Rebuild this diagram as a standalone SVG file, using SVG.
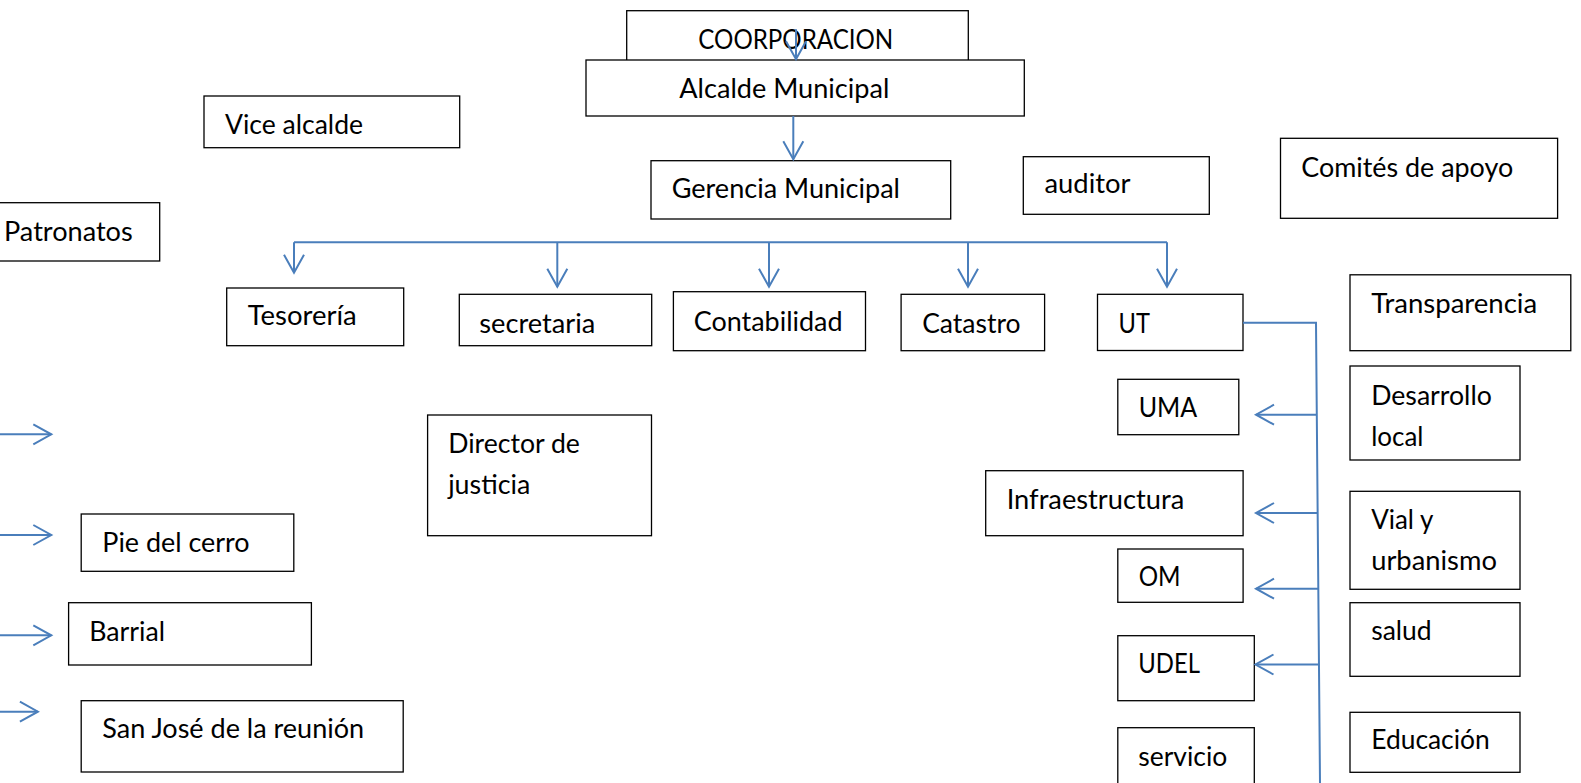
<svg xmlns="http://www.w3.org/2000/svg" width="1581" height="783" viewBox="0 0 1581 783">
<style>
.box{fill:#fff;stroke:#000;stroke-width:1.3}
.t{font-family:Lato,"Open Sans","Liberation Sans",sans-serif;font-size:26px;fill:#000}
.c{fill:none;stroke:#4a7ebb;stroke-width:2}
</style>
<defs>
<marker id="arr" viewBox="-21 -12 23 24" refX="0" refY="0" markerWidth="23" markerHeight="24" markerUnits="userSpaceOnUse" orient="auto" overflow="visible">
<path d="M-18,-10 L0,0 L-18,10" fill="none" stroke="#4a7ebb" stroke-width="2"/>
</marker>
</defs>
<rect width="1581" height="783" fill="#fff"/>
<g id="coorporacion"><rect class="box" x="626.7" y="10.7" width="341.6" height="55"/><text class="t" x="698.3" y="49.3" textLength="195" lengthAdjust="spacingAndGlyphs">COORPORACION</text></g>
<g id="alcalde"><rect class="box" x="586" y="60" width="438.3" height="56"/><text class="t" x="679.3" y="97.7" textLength="210" lengthAdjust="spacingAndGlyphs">Alcalde Municipal</text></g>
<g id="gerencia"><rect class="box" x="651" y="160.7" width="299.7" height="58.3"/><text class="t" x="671.7" y="198.3" textLength="228.3" lengthAdjust="spacingAndGlyphs">Gerencia Municipal</text></g>
<g id="vicealcalde"><rect class="box" x="204" y="96" width="255.7" height="51.7"/><text class="t" x="225" y="134" textLength="138" lengthAdjust="spacingAndGlyphs">Vice alcalde</text></g>
<g id="patronatos"><rect class="box" x="-2" y="202.7" width="161.7" height="58.3"/><text class="t" x="4" y="240.7" textLength="128.7" lengthAdjust="spacingAndGlyphs">Patronatos</text></g>
<g id="auditor"><rect class="box" x="1023.3" y="156.7" width="186" height="57.6"/><text class="t" x="1044.5" y="193.3" textLength="86" lengthAdjust="spacingAndGlyphs">auditor</text></g>
<g id="comites"><rect class="box" x="1280.5" y="138.3" width="277.1" height="80"/><text class="t" x="1301.2" y="176.7" textLength="212" lengthAdjust="spacingAndGlyphs">Comités de apoyo</text></g>
<g id="tesoreria"><rect class="box" x="226.7" y="288" width="177" height="57.7"/><text class="t" x="247.7" y="325" textLength="109" lengthAdjust="spacingAndGlyphs">Tesorería</text></g>
<g id="secretaria"><rect class="box" x="459.3" y="294.3" width="192.4" height="51.4"/><text class="t" x="479.3" y="333.3" textLength="116" lengthAdjust="spacingAndGlyphs">secretaria</text></g>
<g id="contabilidad"><rect class="box" x="673.4" y="291.7" width="192.1" height="59"/><text class="t" x="693.7" y="331" textLength="148.9" lengthAdjust="spacingAndGlyphs">Contabilidad</text></g>
<g id="catastro"><rect class="box" x="901.1" y="294.3" width="143.5" height="56.4"/><text class="t" x="922.2" y="333.3" textLength="98.4" lengthAdjust="spacingAndGlyphs">Catastro</text></g>
<g id="ut"><rect class="box" x="1097.5" y="294.3" width="145.5" height="56.2"/><text class="t" x="1118.5" y="333.3" textLength="31.4" lengthAdjust="spacingAndGlyphs">UT</text></g>
<g id="transparencia"><rect class="box" x="1350" y="274.8" width="220.8" height="75.9"/><text class="t" x="1371.2" y="312.7" textLength="166" lengthAdjust="spacingAndGlyphs">Transparencia</text></g>
<g id="desarrollo"><rect class="box" x="1350" y="366" width="170" height="94"/><text class="t" x="1371.2" y="405" textLength="120.6" lengthAdjust="spacingAndGlyphs">Desarrollo</text><text class="t" x="1371.2" y="445.7" textLength="52.2" lengthAdjust="spacingAndGlyphs">local</text></g>
<g id="uma"><rect class="box" x="1117.8" y="379.3" width="121" height="55.4"/><text class="t" x="1138.7" y="416.7" textLength="58.5" lengthAdjust="spacingAndGlyphs">UMA</text></g>
<g id="infraestructura"><rect class="box" x="985.7" y="470.7" width="257.4" height="65"/><text class="t" x="1006.7" y="509.3" textLength="177.5" lengthAdjust="spacingAndGlyphs">Infraestructura</text></g>
<g id="vial"><rect class="box" x="1350" y="491.3" width="170" height="98"/><text class="t" x="1371.2" y="529.3" textLength="62.1" lengthAdjust="spacingAndGlyphs">Vial y</text><text class="t" x="1371.2" y="570" textLength="125.7" lengthAdjust="spacingAndGlyphs">urbanismo</text></g>
<g id="om"><rect class="box" x="1117.8" y="549" width="125.3" height="53.3"/><text class="t" x="1138.7" y="586" textLength="41.9" lengthAdjust="spacingAndGlyphs">OM</text></g>
<g id="salud"><rect class="box" x="1350" y="602.7" width="170" height="73.6"/><text class="t" x="1371.2" y="640" textLength="60.5" lengthAdjust="spacingAndGlyphs">salud</text></g>
<g id="udel"><rect class="box" x="1117.8" y="635.7" width="136.5" height="65"/><text class="t" x="1138.3" y="673.3" textLength="61.7" lengthAdjust="spacingAndGlyphs">UDEL</text></g>
<g id="educacion"><rect class="box" x="1350" y="712.3" width="170" height="60"/><text class="t" x="1371.2" y="749" textLength="118.6" lengthAdjust="spacingAndGlyphs">Educación</text></g>
<g id="servicio"><rect class="box" x="1117.8" y="727.7" width="136.5" height="70"/><text class="t" x="1138.3" y="766" textLength="89" lengthAdjust="spacingAndGlyphs">servicio</text></g>
<g id="director"><rect class="box" x="427.6" y="415" width="223.9" height="120.7"/><text class="t" x="448.2" y="452.7" textLength="131.7" lengthAdjust="spacingAndGlyphs">Director de</text><text class="t" x="448.2" y="494" textLength="82.1" lengthAdjust="spacingAndGlyphs">justicia</text></g>
<g id="piedelcerro"><rect class="box" x="81.2" y="514" width="212.6" height="57.3"/><text class="t" x="102.3" y="551.7" textLength="147.3" lengthAdjust="spacingAndGlyphs">Pie del cerro</text></g>
<g id="barrial"><rect class="box" x="68.6" y="602.7" width="242.8" height="62.3"/><text class="t" x="89.2" y="640.7" textLength="75.8" lengthAdjust="spacingAndGlyphs">Barrial</text></g>
<g id="sanjose"><rect class="box" x="81.2" y="700.7" width="322" height="71.3"/><text class="t" x="102.3" y="738.3" textLength="261.8" lengthAdjust="spacingAndGlyphs">San José de la reunión</text></g>
<g id="connectors">
<path class="c" d="M796,29.3 V59.3" marker-end="url(#arr)"/>
<path class="c" d="M793.3,116 V159.3" marker-end="url(#arr)"/>
<path class="c" d="M294,242.3 H1167"/>
<path class="c" d="M294,242.3 V272.7" marker-end="url(#arr)"/>
<path class="c" d="M557.3,242.3 V286.7" marker-end="url(#arr)"/>
<path class="c" d="M769,242.3 V286.7" marker-end="url(#arr)"/>
<path class="c" d="M968,242.3 V286.7" marker-end="url(#arr)"/>
<path class="c" d="M1167,242.3 V286.7" marker-end="url(#arr)"/>
<path class="c" d="M1243,322.7 H1316 L1320,783"/>
<path class="c" d="M1316.8,414.7 H1256" marker-end="url(#arr)"/>
<path class="c" d="M1317.7,513 H1256" marker-end="url(#arr)"/>
<path class="c" d="M1318.3,588.7 H1256" marker-end="url(#arr)"/>
<path class="c" d="M1319,664.5 H1255.5" marker-end="url(#arr)"/>
<path class="c" d="M0,434.3 H51.3" marker-end="url(#arr)"/>
<path class="c" d="M0,535 H51.3" marker-end="url(#arr)"/>
<path class="c" d="M0,635.3 H51.3" marker-end="url(#arr)"/>
<path class="c" d="M0,711.7 H37.9" marker-end="url(#arr)"/>
</g>
</svg>
